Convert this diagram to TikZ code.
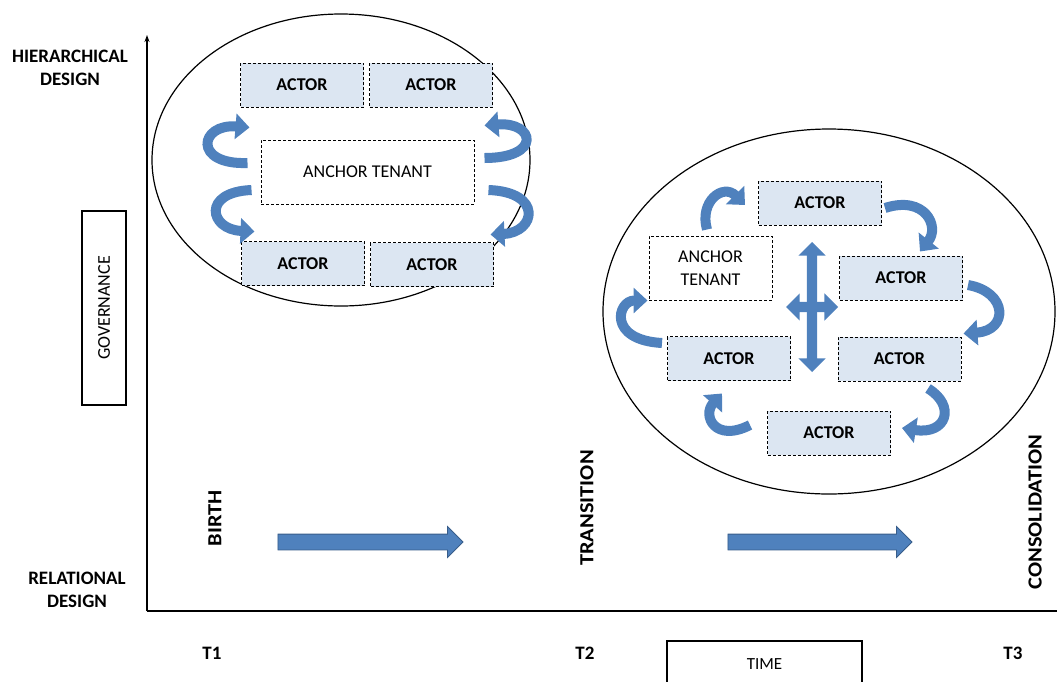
\documentclass[tikz,border=0pt]{standalone}
\usepackage{fontspec}
\setmainfont{Carlito}
\newfontfamily\widefont[FakeStretch=1.12]{Carlito}
\usepackage{xcolor}
\usepackage{tikz}
\usetikzlibrary{calc}
\usetikzlibrary{shapes.geometric, shapes.arrows, arrows.meta}
\definecolor{blockblue}{RGB}{79,129,189}
\definecolor{blockedge}{RGB}{56,93,138}
\definecolor{actorfill}{RGB}{220,230,242}
\tikzstyle{phase} = [ellipse, draw=black, line width=1.2pt, inner sep=0pt]
\tikzstyle{actor} = [rectangle, 
draw=black, 
fill=actorfill, 
dash pattern=on 3pt off 2pt, 
line width=1pt, 
minimum width=123pt, 
minimum height=44pt, 
font=\bfseries\fontsize{18}{20}\selectfont]
\tikzstyle{tenant} = [rectangle, 
draw=black, 
fill=white, 
dash pattern=on 3pt off 2pt, 
line width=1pt, 
minimum height=64pt, 
align=center, 
font=\fontsize{18}{23}\selectfont]
\tikzstyle{label} = [font=\bfseries\fontsize{19}{23}\selectfont, align=center]
\tikzstyle{stage} = [rotate=90, font=\widefont\bfseries\fontsize{20}{22}\selectfont]
\tikzstyle{framebox} = [rectangle, draw=black, line width=1.2pt, font=\fontsize{17}{20}\selectfont]
\tikzstyle{blockarrow} = [single arrow, fill=blockblue, draw=blockedge, line width=0.8pt, 
inner xsep=0pt, inner ysep=7.5pt, minimum width=30pt, single arrow head extend=7.5pt]
\tikzstyle{crossarrow} = [double arrow, fill=blockblue, inner xsep=0pt, inner ysep=5pt, 
minimum width=27pt, double arrow head extend=8.5pt]
\tikzstyle{curvy} = [draw=blockblue, line width=10pt, -{Triangle[length=14pt,width=25pt]}]
\tikzstyle{axis} = [line width=1.6pt, draw=black]

\begin{document}
\begin{tikzpicture}[x=1pt, y=-1pt]
			\useasboundingbox (0,0) rectangle (1057,681);
			
			% axes
			\coordinate (origin) at (147,611);
			\coordinate (ytop) at (147,35);
			\coordinate (xend) at (1057,611);
			\draw [axis, -{Stealth[length=7pt,width=5pt]}] (origin) -- (ytop);
			\draw [axis] (origin) -- (xend);
			
			\node (hier)[label] at (70,68) {HIERARCHICAL\\DESIGN};
			\node (rel)[label] at (77,590) {RELATIONAL\\DESIGN};
			\node (govern)[framebox, minimum width=44pt, minimum height=194pt] at (104,308) {};
			\node (governText)[rotate=90, font=\fontsize{18}{20}\selectfont] at (govern.center) {GOVERNANCE};
			
			% first phase
			\node (phaseOne)[phase, minimum width=378pt, minimum height=292pt] at (341,160) {};
			\node (a11)[actor] at (302,85) {ACTOR};
			\node (a12)[actor] at (431,85) {ACTOR};
			\node (anchorOne)[tenant, minimum width=213pt] at (367.5,172) {ANCHOR TENANT};
			\node (a13)[actor] at (303,263.5) {ACTOR};
			\node (a14)[actor] at (432,264.5) {ACTOR};
			\draw [curvy] ($(anchorOne.west)+(-13,-9)$) .. controls +(-55,2) and +(-50,-4) .. ($(a11.south west)+(9.5,20)$);
			\draw [curvy] ($(anchorOne.west)+(-9,18)$) .. controls +(-50,2) and +(-45,-2) .. ($(a13.north west)+(13.5,-9.5)$);
			\draw [curvy] ($(anchorOne.east)+(10,-14)$) .. controls +(58,0) and +(50,-4) .. ($(a12.south east)+(-8.5,18)$);
			\draw [curvy] ($(anchorOne.east)+(14,18)$) .. controls +(55,2) and +(45,-2) .. ($(a14.north east)+(-3.5,-7.5)$);
			
			% second phase
			\node (phaseTwo)[phase, minimum width=452pt, minimum height=365pt] at (829,311.5) {};
			\node (b1)[actor] at (820,203) {ACTOR};
			\node (anchorTwo)[tenant, minimum width=123pt] at (710.5,268) {ANCHOR\\TENANT};
			\node (b2)[actor] at (901,278) {ACTOR};
			\node (b3)[actor] at (729,358.5) {ACTOR};
			\node (b4)[actor] at (899.5,359) {ACTOR};
			\node (b5)[actor] at (829,433) {ACTOR};
			\node (crossV)[crossarrow, rotate=90, minimum height=130pt] at (812,307) {};
			\node (crossH)[crossarrow, minimum height=52pt] at (crossV.center) {};
			\draw [curvy] ($(anchorTwo.north)+(-3.5,-6)$) .. controls +(-8,-28) and +(-22,-22) .. ($(b1.west)+(-13,2)$);
			\draw [curvy] ($(b1.east)+(3,5)$) .. controls +(40,-13) and +(20,-25) .. ($(b2.north)+(19,-4)$);
			\draw [curvy] ($(b2.east)+(5,7)$) .. controls +(40,7) and +(45,-3) .. ($(b4.north east)+(2,-3)$);
			\draw [curvy] ($(b4.south)+(28.5,7)$) .. controls +(28,17) and +(45,7) .. ($(b5.east)+(11,-5)$);
			\draw [curvy] ($(b5.west)+(-17,-8)$) .. controls +(-35,18) and +(-20,22) .. ($(b3.south)+(-7,12.5)$);
			\draw [curvy] ($(b3.west)+(-5,-15.5)$) .. controls +(-55,-3) and +(-30,0) .. ($(anchorTwo.south west)+(-1,0)$);
			
			% stages and time
			\node (birth)[stage] at (215,518) {BIRTH};
			\node (transition)[stage] at (587,508) {TRANSITION};
			\node (consol)[stage] at (1035,512) {CONSOLIDATION};
			\node (stepOne)[blockarrow, minimum height=185pt] at (366.5,542) {};
			\node (stepTwo)[blockarrow, minimum height=184pt] at (816,542) {};
			
			\node (t1)[label] at (212,653) {T1};
			\node (t2)[label] at (585,653) {T2};
			\node (t3)[label] at (1013,653) {T3};
			\node (time)[framebox, minimum width=195pt, minimum height=46pt] at (764.5,664) {TIME};
		\end{tikzpicture}
\end{document}
